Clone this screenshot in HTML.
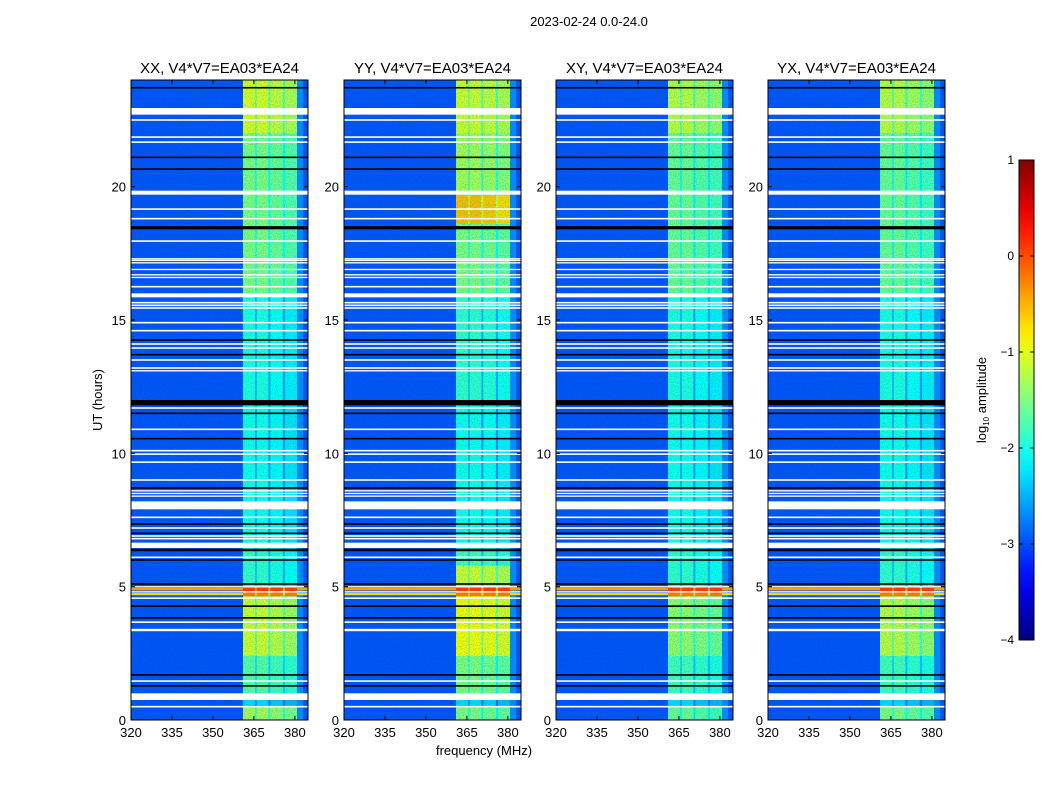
<!DOCTYPE html>
<html><head><meta charset="utf-8"><style>
body{margin:0;background:#fff;}
svg text{font-family:"Liberation Sans","DejaVu Sans",sans-serif;}
</style></head><body>
<svg id="fig" width="1050" height="800" viewBox="0 0 1050 800" xmlns="http://www.w3.org/2000/svg">
<defs>
<filter id="noise" x="0" y="0" width="100%" height="100%">
<feTurbulence type="fractalNoise" baseFrequency="0.9" numOctaves="1" seed="3" result="n"/>
<feColorMatrix in="n" type="matrix" values="0 0 0 0 0  0 0 0 0 0.3  0 0 0 0 0.2  0 0 0 0.9 -0.35"/>
</filter>
</defs>
<text x="589" y="26" font-size="13" text-anchor="middle">2023-02-24 0.0-24.0</text>
<text x="102" y="400" font-size="13" text-anchor="middle" transform="rotate(-90 102 400)">UT (hours)</text>
<text x="484" y="755" font-size="13" text-anchor="middle">frequency (MHz)</text>
<g id="panels"></g>
<g id="cbar"></g>
</svg>
<script>
const panelNames = ["XX","YY","XY","YX"];
const xTicks = [320,335,350,365,380];
const yTicks = [0,5,10,15,20];
const cbTicks = [1,0,-1,-2,-3,-4];
const freqMin = 320, freqMax = 384.8, tMin = 0, tMax = 24;
const bgLevel = -3.0;
const subBands = [[361,365.5],[366,370.3],[371,375.6],[376.4,380.8]];
const subOffset = [[0,0,-0.1,-0.2],[0,0,-0.05,-0.15],[0,0,-0.1,-0.2],[0,0,-0.1,-0.2]];
const bandXX = [[0,0.5,-1.3],[0.5,1,-2.3],[1,2.4,-1.7],[2.4,4.5,-1.1],[4.5,5.0,-1.2],[5.0,6.3,-1.9],[6.3,12,-2.05],[12,16,-2.0],[16,22,-1.5],[22,24,-1.05]];
const bandYY = [[0,0.5,-1.5],[0.5,1,-2.3],[1,2.4,-1.5],[2.4,4.5,-0.9],[4.5,5.0,-1.0],[5.0,5.8,-1.1],[5.8,6.3,-1.8],[6.3,12,-2.05],[12,16,-1.9],[16,18.6,-1.5],[18.6,19.7,-0.55],[19.7,22,-1.3],[22,24,-1.1]];
const bandXY = [[0,0.5,-1.6],[0.5,1,-2.3],[1,2.4,-1.8],[2.4,4.5,-1.4],[4.5,5.0,-1.3],[5.0,6.3,-1.9],[6.3,12,-2.05],[12,16,-2.0],[16,22,-1.6],[22,24,-1.2]];
const bandYX = [[0,0.5,-1.5],[0.5,1,-2.3],[1,2.4,-1.8],[2.4,4.5,-1.2],[4.5,5.0,-1.3],[5.0,6.3,-1.9],[6.3,12,-2.05],[12,16,-2.0],[16,22,-1.6],[22,24,-1.2]];
const bandLevels = [bandXX,bandYY,bandXY,bandYX];
const hotRows = [[4.86,4.95,0.1],[4.68,4.76,-0.2]];
const whiteRows = [[22.7,22.95],[22.47,22.53],[21.83,21.89],[21.64,21.7],[19.7,19.85],[19.13,19.19],[18.77,18.83],[17.93,17.99],[17.28,17.32],[17.22,17.26],[17.12,17.17],[16.87,16.92],[16.67,16.72],[16.57,16.62],[16.22,16.28],[15.85,16.0],[15.62,15.68],[15.52,15.58],[15.42,15.48],[14.87,14.93],[14.57,14.63],[14.07,14.13],[13.92,13.98],[13.47,13.53],[13.17,13.23],[13.07,13.12],[11.67,11.73],[10.87,10.93],[10.07,10.13],[9.94,10.0],[9.64,9.7],[8.97,9.03],[8.57,8.62],[8.47,8.52],[8.37,8.42],[7.9,8.2],[7.57,7.63],[7.17,7.23],[6.87,6.93],[6.77,6.83],[6.45,6.65],[6.07,6.13],[4.97,5.02],[4.78,4.83],[4.54,4.6],[3.64,3.7],[3.33,3.42],[1.43,1.49],[0.75,1.0],[0.47,0.53]];
const blackRows = [[23.68,23.74],[21.07,21.13],[20.63,20.69],[18.4,18.52],[14.22,14.28],[13.67,13.73],[11.8,12.0],[11.47,11.53],[10.52,10.58],[8.67,8.73],[7.32,7.38],[6.97,7.03],[6.33,6.42],[5.97,6.03],[5.07,5.13],[4.24,4.3],[3.8,3.86],[1.66,1.72],[1.25,1.31]];

const panelX = [131,344,556,768], panelW = 177, panelTop = 80, panelH = 640;
const NS = "http://www.w3.org/2000/svg";
function jet(v){
  let t=(v+4)/5; t=Math.max(0,Math.min(1,t));
  const c=x=>Math.round(255*Math.max(0,Math.min(1,x)));
  return `rgb(${c(1.5-Math.abs(4*t-3))},${c(1.5-Math.abs(4*t-2))},${c(1.5-Math.abs(4*t-1))})`;
}
function mk(tag,attrs,parent){const e=document.createElementNS(NS,tag);for(const k in attrs)e.setAttribute(k,attrs[k]);parent.appendChild(e);return e;}
const root=document.getElementById("panels");
panelNames.forEach((pn,p)=>{
  const x0=panelX[p];
  const xs=f=>x0+(f-freqMin)/(freqMax-freqMin)*panelW;
  const ys=t=>panelTop+panelH-(t-tMin)/(tMax-tMin)*panelH;
  const g=mk("g",{},root);
  
  
  const bg=mk("rect",{x:x0,y:panelTop,width:panelW,height:panelH,fill:jet(bgLevel)},g);
  
  
  bandLevels[p].forEach(b=>{
    const under=mk("rect",{x:xs(subBands[0][0]),y:ys(b[1]),width:xs(subBands[3][1])-xs(subBands[0][0]),height:ys(b[0])-ys(b[1]),fill:jet(b[2]-0.6)},g);
    
    
    subBands.forEach((sb,i)=>{
      const r=mk("rect",{x:xs(sb[0]),y:ys(b[1]),width:xs(sb[1])-xs(sb[0]),height:ys(b[0])-ys(b[1]),fill:jet(b[2]+subOffset[p][i])},g);
      
      
    });
    const gaps=mk("rect",{x:xs(subBands[3][1]),y:ys(b[1]),width:xs(383)-xs(subBands[3][1]),height:ys(b[0])-ys(b[1]),fill:jet(bgLevel+0.3)},g);
    
    
  });
  const tex=mk("rect",{x:x0,y:panelTop,width:panelW,height:panelH,fill:"#000",filter:"url(#noise)"},g);
  
  
  hotRows.forEach(h=>{
    const r=mk("rect",{x:x0,y:ys(h[1]),width:panelW,height:Math.max(1.5,ys(h[0])-ys(h[1])),fill:jet(h[2]-0.5)},g);
    
    
    subBands.forEach(sb=>{
      const c=mk("rect",{x:xs(sb[0]),y:ys(h[1])-1,width:xs(sb[1])-xs(sb[0]),height:Math.max(2.5,ys(h[0])-ys(h[1])+2),fill:jet(h[2])},g);
      
      
    });
  });
  whiteRows.forEach(w=>{
    const r=mk("rect",{x:x0,y:ys(w[1]),width:panelW,height:Math.max(1.3,ys(w[0])-ys(w[1])),fill:"#fff"},g);
    
    
  });
  blackRows.forEach(w=>{
    const r=mk("rect",{x:x0,y:ys(w[1]),width:panelW,height:Math.max(1.3,ys(w[0])-ys(w[1])),fill:"#000"},g);
    
    
  });
  const fr=mk("rect",{x:x0,y:panelTop,width:panelW,height:panelH,fill:"none",stroke:"#000","stroke-width":1},g);
  
  
  const tt=mk("text",{x:x0+panelW/2,y:73,"font-size":15,"text-anchor":"middle"},g);
  tt.textContent=pn+", V4*V7=EA03*EA24";
  
  
  xTicks.forEach(f=>{
    const x=xs(f);
    mk("line",{x1:x,x2:x,y1:panelTop+panelH,y2:panelTop+panelH-4,stroke:"#000"},g);
    mk("line",{x1:x,x2:x,y1:panelTop,y2:panelTop+4,stroke:"#000"},g);
    const t=mk("text",{x:x,y:737,"font-size":13,"text-anchor":"middle"},g);
    t.textContent=f;
    
    
  });
  yTicks.forEach(v=>{
    const y=ys(v);
    mk("line",{x1:x0,x2:x0+4,y1:y,y2:y,stroke:"#000"},g);
    mk("line",{x1:x0+panelW,x2:x0+panelW-4,y1:y,y2:y,stroke:"#000"},g);
    const t=mk("text",{x:x0-5,y:y+5,"font-size":13,"text-anchor":"end"},g);
    t.textContent=v;
    
    
  });
});
const cb=document.getElementById("cbar");


const defs=mk("defs",{},cb);
const lg=mk("linearGradient",{id:"jetg",x1:0,y1:1,x2:0,y2:0},defs);
for(let i=0;i<=20;i++){const v=-4+5*i/20;mk("stop",{offset:i/20,"stop-color":jet(v)},lg);}
const cbX=1019,cbW=15,cbTop=160,cbH=480;
const cbs=v=>cbTop+(1-v)/5*cbH;
mk("rect",{x:cbX,y:cbTop,width:cbW,height:cbH,fill:"url(#jetg)",stroke:"#000"},cb);
cbTicks.forEach(v=>{
  const y=cbs(v);
  mk("line",{x1:cbX,x2:cbX+4,y1:y,y2:y,stroke:"#000"},cb);
  mk("line",{x1:cbX+cbW,x2:cbX+cbW-4,y1:y,y2:y,stroke:"#000"},cb);
  const t=mk("text",{x:1014,y:y+4,"font-size":12,"text-anchor":"end"},cb);
  t.textContent=v<0?"\u2212"+(-v):String(v);
  
  
});
const cl=mk("text",{x:986,y:400,"font-size":13,"text-anchor":"middle",transform:"rotate(-90 986 400)"},cb);
cl.innerHTML='log<tspan font-size="8" dy="3">10</tspan><tspan dy="-3"> amplitude</tspan>';


</script>
</body></html>
